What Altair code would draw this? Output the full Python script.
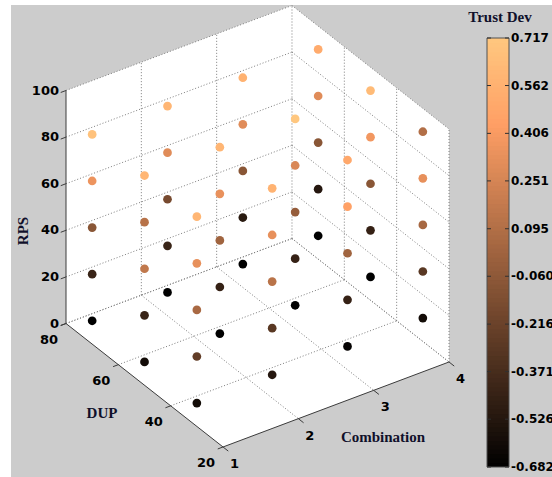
import altair as alt
import numpy as np
import pandas as pd

# ---------------- data ----------------
combination = [1, 2, 3, 4]
dup = [70, 50, 30]
rps = [10, 30, 50, 70, 90]

# Trust deviation, one list of five RPS levels per (Combination, DUP) pair,
# ordered Combination 1..4 and DUP 70, 50, 30 within each combination.
trust_dev = [
    [-0.68, -0.43, -0.08, 0.36, 0.68],   # C1, DUP 70
    [-0.60, -0.43, 0.16, 0.12, 0.60],    # C1, DUP 50
    [-0.60, -0.25, 0.06, 0.33, 0.60],    # C1, DUP 30
    [-0.682, -0.43, -0.16, 0.30, 0.60],  # C2, DUP 70
    [-0.68, -0.45, 0.02, 0.34, 0.60],    # C2, DUP 50
    [-0.52, -0.29, 0.13, 0.33, 0.58],    # C2, DUP 30
    [-0.68, -0.50, -0.08, 0.30, 0.57],   # C3, DUP 70
    [-0.68, -0.45, -0.03, 0.27, 0.717],  # C3, DUP 50
    [-0.66, -0.45, 0.02, 0.45, 0.50],    # C3, DUP 30
    [-0.68, -0.52, -0.08, 0.30, 0.52],   # C4, DUP 70
    [-0.68, -0.45, -0.08, 0.38, 0.63],   # C4, DUP 50
    [-0.60, -0.29, 0.05, 0.33, 0.10],    # C4, DUP 30
]

comb_ticks = [1, 2, 3, 4]
dup_ticks = [80, 60, 40, 20]
rps_ticks = [0, 20, 40, 60, 80, 100]
cbar_ticks = [0.717, 0.562, 0.406, 0.251, 0.095, -0.060, -0.216, -0.371, -0.526, -0.682]
cbar_labels = ["0.717", "0.562", "0.406", "0.251", "0.095",
               "-0.060", "-0.216", "-0.371", "-0.526", "-0.682"]

# ---------------- 3-D view (orthographic, az/el fixed) ----------------
C_MIN, C_MAX = 1, 4
D_MIN, D_MAX = 20, 80
R_MIN, R_MAX = 0, 100
X0, Y0 = 66.0, 323.5          # screen position of (C=1, DUP=80, RPS=0)
CX, CY = 75.33, -28.33        # one Combination step
DX, DY = 2.617, 2.058         # one DUP unit (towards lower DUP)
RZ = 2.33                     # one RPS unit (upwards)


def proj(c, d, r):
    x = X0 + (c - C_MIN) * CX + (D_MAX - d) * DX
    y = Y0 + (c - C_MIN) * CY + (D_MAX - d) * DY - r * RZ
    return x, y


W, H = 552, 477
XS = alt.Scale(domain=[0, W], nice=False, zero=False)
YS = alt.Scale(domain=[0, H], nice=False, zero=False, reverse=True)

VMIN, VMAX = min(cbar_ticks), max(cbar_ticks)
copper = alt.Scale(
    domain=[VMIN, VMIN + 0.8 * (VMAX - VMIN), VMAX],
    range=["#000000", "#ff9f65", "#ffc77f"],
    interpolate="rgb",
)

# ---------------- scatter points ----------------
rows = []
i = 0
for c in combination:
    for d in dup:
        for r, v in zip(rps, trust_dev[i]):
            x, y = proj(c, d, r)
            depth = (c - C_MIN) / (C_MAX - C_MIN) + (d - D_MIN) / (D_MAX - D_MIN)
            rows.append({"Combination": c, "DUP": d, "RPS": r, "val": v,
                         "px": x, "py": y, "depth": depth})
        i += 1
pts = pd.DataFrame(rows).sort_values(["depth", "RPS"], ascending=[False, True])

# ---------------- box, grid, ticks ----------------
def seg_df(segs):
    out = []
    for (a, b) in segs:
        x1, y1 = proj(*a)
        x2, y2 = proj(*b)
        out.append({"px": x1, "py": y1, "px2": x2, "py2": y2})
    return pd.DataFrame(out)


grid = []
for r in rps_ticks:
    grid.append(((C_MIN, D_MAX, r), (C_MAX, D_MAX, r)))   # back-left wall
    grid.append(((C_MAX, D_MAX, r), (C_MAX, D_MIN, r)))   # back-right wall
for c in comb_ticks[1:]:
    grid.append(((c, D_MAX, R_MIN), (c, D_MAX, R_MAX)))
    grid.append(((c, D_MAX, R_MIN), (c, D_MIN, R_MIN)))   # floor
for d in dup_ticks[1:]:
    grid.append(((C_MAX, d, R_MIN), (C_MAX, d, R_MAX)))
for d in dup_ticks[:-1]:
    grid.append(((C_MIN, d, R_MIN), (C_MAX, d, R_MIN)))   # floor
grid_df = seg_df(grid)

axes_segs = [
    ((C_MIN, D_MAX, R_MIN), (C_MIN, D_MAX, R_MAX)),
    ((C_MIN, D_MAX, R_MIN), (C_MIN, D_MIN, R_MIN)),
    ((C_MIN, D_MIN, R_MIN), (C_MAX, D_MIN, R_MIN)),
]
for r in rps_ticks:
    axes_segs.append(((C_MIN, D_MAX, r), (C_MIN - 0.07, D_MAX, r)))
for d in dup_ticks:
    axes_segs.append(((C_MIN, d, R_MIN), (C_MIN - 0.07, d, R_MIN)))
for c in comb_ticks:
    axes_segs.append(((c, D_MIN, R_MIN), (c, D_MIN - 2, R_MIN)))
axes_df = seg_df(axes_segs)

# white back planes of the axes box (hexagonal outline)
top_line = [proj(C_MIN, D_MAX, R_MAX), proj(C_MAX, D_MAX, R_MAX), proj(C_MAX, D_MIN, R_MAX)]
bot_line = [proj(C_MIN, D_MAX, R_MIN), proj(C_MIN, D_MIN, R_MIN), proj(C_MAX, D_MIN, R_MIN)]


def interp(line, x):
    xs = [p[0] for p in line]
    ys = [p[1] for p in line]
    return float(np.interp(x, xs, ys))


xs_break = sorted({p[0] for p in top_line} | {p[0] for p in bot_line})
plane_df = pd.DataFrame({
    "px": xs_break,
    "py": [interp(top_line, x) for x in xs_break],
    "py2": [interp(bot_line, x) for x in xs_break],
})

# ---------------- tick labels ----------------
rps_lab = pd.DataFrame([{"px": proj(C_MIN, D_MAX, r)[0], "py": proj(C_MIN, D_MAX, r)[1],
                         "t": str(r)} for r in rps_ticks])
dup_lab = pd.DataFrame([{"px": proj(C_MIN, d, R_MIN)[0], "py": proj(C_MIN, d, R_MIN)[1],
                         "t": str(d)} for d in dup_ticks])
comb_lab = pd.DataFrame([{"px": proj(c, D_MIN, R_MIN)[0], "py": proj(c, D_MIN, R_MIN)[1],
                          "t": str(c)} for c in comb_ticks])

# ---------------- colorbar ----------------
CB_L, CB_R, CB_T, CB_B = 487, 509, 38, 467


def cb_y(v):
    return CB_B - (v - VMIN) / (VMAX - VMIN) * (CB_B - CB_T)


edges = np.linspace(VMIN, VMAX, 97)
cbar = pd.DataFrame({
    "val": (edges[:-1] + edges[1:]) / 2,
    "py": [cb_y(v) + 0.8 for v in edges[:-1]],
    "py2": [max(cb_y(v) - 0.8, CB_T) for v in edges[1:]],
})
cbar["py"] = cbar["py"].clip(upper=CB_B)
cb_tick_df = pd.DataFrame({"val": cbar_ticks, "py": [cb_y(v) for v in cbar_ticks],
                           "t": cbar_labels})

LABEL_FONT = "DejaVu Sans"
TITLE_FONT = "Liberation Serif"
TITLE_COLOR = "#10102a"

one = pd.DataFrame({"k": [0]})

background = alt.Chart(one).mark_rect(color="#cccccc").encode(
    x=alt.value(11), x2=alt.value(W), y=alt.value(5), y2=alt.value(H))

planes = alt.Chart(plane_df).mark_area(color="white", opacity=1, interpolate="linear").encode(
    x=alt.X("px:Q", scale=XS, axis=None),
    y=alt.Y("py:Q", scale=YS, axis=None),
    y2="py2:Q")

grid_layer = alt.Chart(grid_df).mark_rule(
    color="#7c7c7c", strokeWidth=1, strokeDash=[1, 2]).encode(
    x=alt.X("px:Q", scale=XS, axis=None), y=alt.Y("py:Q", scale=YS, axis=None),
    x2="px2:Q", y2="py2:Q")

axes_layer = alt.Chart(axes_df).mark_rule(color="#3c3c3c", strokeWidth=1).encode(
    x=alt.X("px:Q", scale=XS, axis=None), y=alt.Y("py:Q", scale=YS, axis=None),
    x2="px2:Q", y2="py2:Q")

points = alt.Chart(pts).mark_circle(size=76, opacity=1).encode(
    x=alt.X("px:Q", scale=XS, axis=None),
    y=alt.Y("py:Q", scale=YS, axis=None),
    color=alt.Color("val:Q", scale=copper, legend=None),
    order=alt.Order("depth:Q", sort="descending"))


def text_layer(df, **kw):
    return alt.Chart(df).mark_text(font=LABEL_FONT, fontWeight="bold", fontSize=13,
                                   color="black", baseline="middle", **kw).encode(
        x=alt.X("px:Q", scale=XS, axis=None), y=alt.Y("py:Q", scale=YS, axis=None),
        text="t:N")


rps_text = text_layer(rps_lab, align="right", dx=-7)
dup_text = text_layer(dup_lab, align="center", dx=-17, dy=16.5)
comb_text = text_layer(comb_lab, align="center", dx=11.5, dy=17)


def title(txt, x, y, angle=0):
    return alt.Chart(one).mark_text(text=txt, font=TITLE_FONT, fontWeight="bold",
                                    fontSize=15, color=TITLE_COLOR, align="center",
                                    baseline="middle", angle=angle).encode(
        x=alt.value(x), y=alt.value(y))


titles = [title("RPS", 23, 231, 270), title("DUP", 102, 413),
          title("Combination", 383, 437), title("Trust Dev", 500, 17)]

cb_rects = alt.Chart(cbar).mark_rect(strokeWidth=0).encode(
    x=alt.value(CB_L), x2=alt.value(CB_R),
    y=alt.Y("py:Q", scale=YS, axis=None), y2="py2:Q",
    color=alt.Color("val:Q", scale=copper, legend=None))

cb_border = alt.Chart(one).mark_rect(fill=None, stroke="#505050", strokeWidth=1).encode(
    x=alt.value(CB_L), x2=alt.value(CB_R), y=alt.value(CB_T), y2=alt.value(CB_B))

cb_dash_l = alt.Chart(cb_tick_df).mark_rule(color="#303030", strokeWidth=1).encode(
    x=alt.value(CB_L), x2=alt.value(CB_L + 4), y=alt.Y("py:Q", scale=YS, axis=None))
cb_dash_r = alt.Chart(cb_tick_df).mark_rule(color="#303030", strokeWidth=1).encode(
    x=alt.value(CB_R - 4), x2=alt.value(CB_R), y=alt.Y("py:Q", scale=YS, axis=None))

cb_text = alt.Chart(cb_tick_df).mark_text(font=LABEL_FONT, fontWeight="bold", fontSize=12,
                                          color="black", align="left", baseline="middle").encode(
    x=alt.value(CB_R + 2), y=alt.Y("py:Q", scale=YS, axis=None), text="t:N")

chart = alt.layer(
    background, planes, grid_layer, axes_layer, points,
    rps_text, dup_text, comb_text, *titles,
    cb_rects, cb_border, cb_dash_l, cb_dash_r, cb_text,
).properties(
    width=W, height=H, padding=0,
    autosize=alt.AutoSizeParams(type="none"),
    background="white",
).configure_view(stroke=None)

chart.save("out.html", embed_options={"renderer": "svg", "actions": False})
